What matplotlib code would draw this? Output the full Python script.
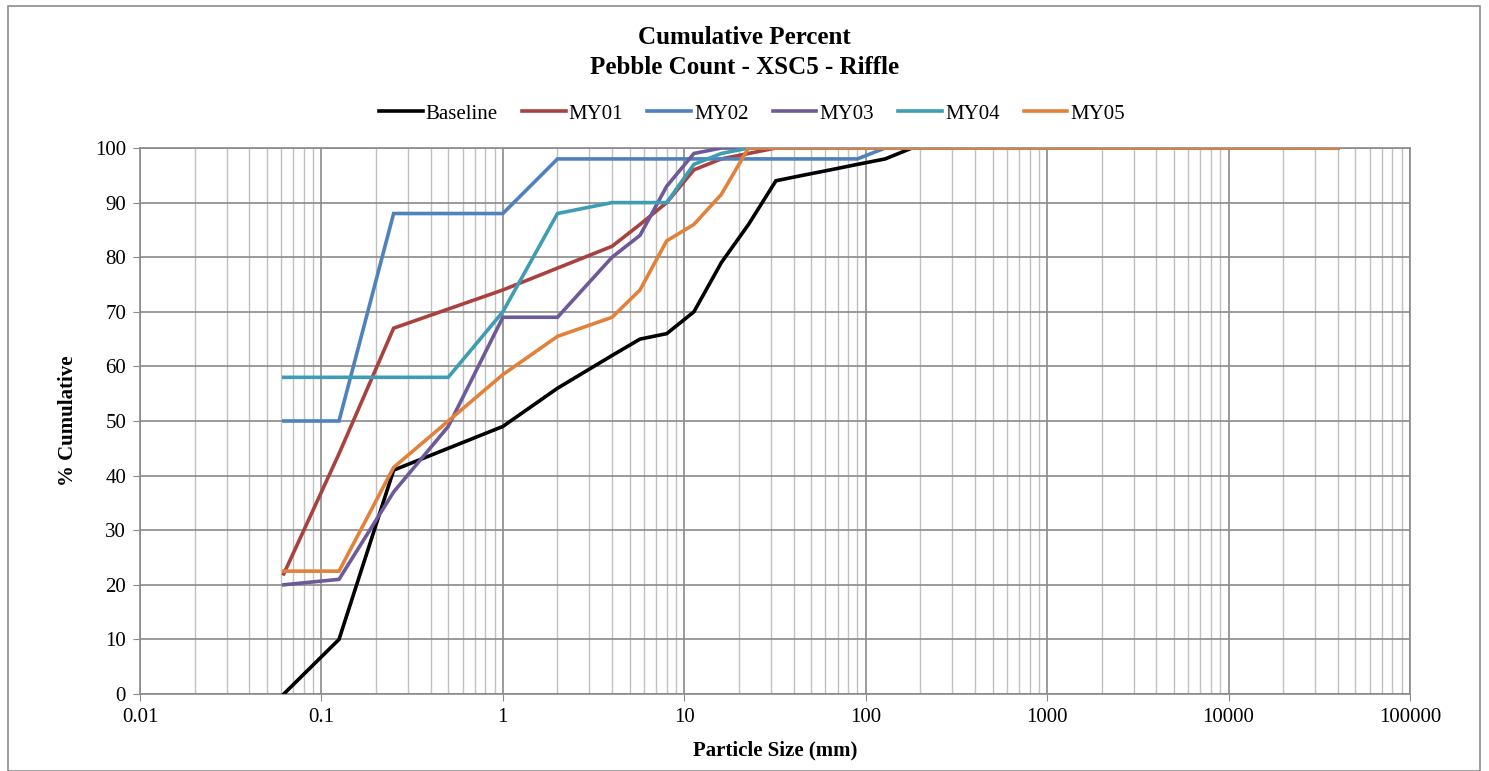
import numpy as np
import matplotlib.pyplot as plt
from matplotlib.ticker import FixedLocator, LogLocator, NullFormatter
from matplotlib.patches import Rectangle

plt.rcParams['font.family'] = ['Liberation Serif', 'DejaVu Serif']

# Sieve sizes (mm) and cumulative percent finer
sizes = [0.062, 0.125, 0.25, 0.5, 1, 2, 4, 5.7, 8, 11.3, 16, 22.6, 32, 45, 64,
         90, 128, 180, 256, 362, 512, 1024, 2048, 4096, 40000]

baseline = [0, 10, 41, 45, 49, 56, 62, 65, 66, 70, 79, 86, 94, 95, 96,
            97, 98, 100, 100, 100, 100, 100, 100, 100, 100]
my01 = [22, 44, 67, 70.5, 74, 78, 82, 86, 90, 96, 98, 99, 100, 100, 100,
        100, 100, 100, 100, 100, 100, 100, 100, 100, 100]
my02 = [50, 50, 88, 88, 88, 98, 98, 98, 98, 98, 98, 98, 98, 98, 98,
        98, 100, 100, 100, 100, 100, 100, 100, 100, 100]
my03 = [20, 21, 37, 49, 69, 69, 80, 84, 93, 99, 100, 100, 100, 100, 100,
        100, 100, 100, 100, 100, 100, 100, 100, 100, 100]
my04 = [58, 58, 58, 58, 70, 88, 90, 90, 90, 97, 99, 100, 100, 100, 100,
        100, 100, 100, 100, 100, 100, 100, 100, 100, 100]
my05 = [22.5, 22.5, 41.5, 50, 58.5, 65.5, 69, 74, 83, 86, 91.5, 100, 100, 100, 100,
        100, 100, 100, 100, 100, 100, 100, 100, 100, 100]

series = [
    ('Baseline', baseline, '#000000'),
    ('MY01', my01, '#A8423F'),
    ('MY02', my02, '#4F81BD'),
    ('MY03', my03, '#6E5A99'),
    ('MY04', my04, '#3E9DB3'),
    ('MY05', my05, '#E2823A'),
]

fig = plt.figure(figsize=(14.89, 7.71), dpi=100)
ax = fig.add_axes([140 / 1489, 1 - 694 / 771, 1270 / 1489, 546 / 771])

# outer chart frame
fig.patches.append(Rectangle((8 / 1489, 0.0), 1472 / 1489, 1 - 6 / 771,
                             transform=fig.transFigure, fill=False,
                             edgecolor='#8c8c8c', linewidth=1.2))

for name, vals, col in series:
    ax.plot(sizes, vals, color=col, linewidth=2.6, label=name,
            solid_joinstyle='miter', zorder=3)

ax.set_xscale('log')
ax.set_xlim(0.01, 100000)
ax.set_ylim(0, 100)
ax.set_yticks(np.arange(0, 101, 10))
ax.xaxis.set_major_locator(FixedLocator([0.01, 0.1, 1, 10, 100, 1000, 10000, 100000]))
ax.set_xticklabels(['0.01', '0.1', '1', '10', '100', '1000', '10000', '100000'])
ax.xaxis.set_minor_locator(LogLocator(base=10, subs=np.arange(2, 10), numticks=20))
ax.xaxis.set_minor_formatter(NullFormatter())

ax.grid(True, which='major', axis='both', color='#8a8a8a', linewidth=1.2, zorder=1)
ax.grid(True, which='minor', axis='x', color='#c0c0c0', linewidth=1.0, zorder=1)
ax.set_axisbelow(True)

for s in ax.spines.values():
    s.set_color('#8a8a8a')
    s.set_linewidth(1.2)
ax.tick_params(axis='both', which='major', labelsize=15, color='#8a8a8a', length=5,
               direction='out', pad=5)
ax.tick_params(axis='x', which='minor', length=0)

ax.set_xlabel('Particle Size (mm)', fontsize=15, fontweight='bold', labelpad=10)
ax.set_ylabel('% Cumulative', fontsize=15, fontweight='bold', labelpad=12)

fig.text(0.5, 1 - 38 / 771, 'Cumulative Percent', ha='center', va='center',
         fontsize=18, fontweight='bold')
fig.text(0.5, 1 - 67 / 771, 'Pebble Count - XSC5 - Riffle', ha='center', va='center',
         fontsize=18, fontweight='bold')

fig.legend(loc='center', bbox_to_anchor=(752 / 1489, 1 - 114 / 771), ncol=6,
           frameon=False, fontsize=15, handlelength=2.1, handletextpad=0.15,
           columnspacing=1.15)

fig.savefig('out.png', dpi=100)
